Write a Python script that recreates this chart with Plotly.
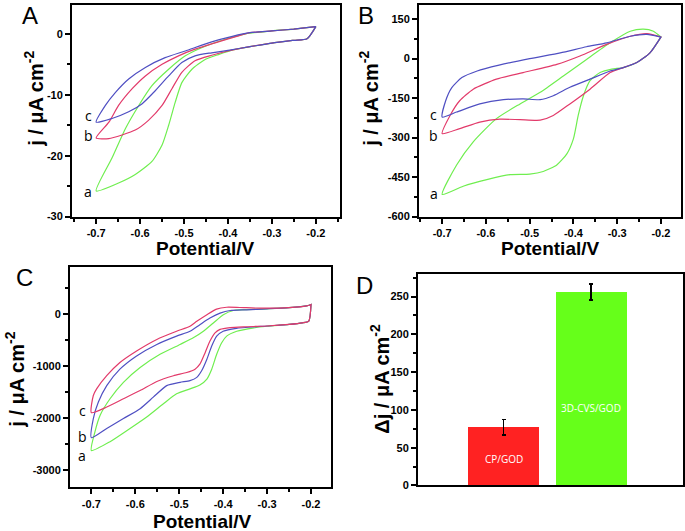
import plotly.graph_objects as go

# ---------------- Panel A data (Potential / V, j / uA cm-2) ----------------
A_a_up_V = [-0.7, -0.664, -0.633, -0.603, -0.573, -0.535, -0.497, -0.46, -0.42, -0.36, -0.3, -0.25, -0.2]
A_a_up_J = [-25.8, -20.4, -15.5, -11.75, -8.5, -5.8, -3.6, -2.27, -1.2, 0.0, 0.5, 0.8, 1.2]
A_a_lo_V = [-0.7, -0.649, -0.611, -0.573, -0.55, -0.535, -0.52, -0.505, -0.482, -0.452, -0.422, -0.384, -0.35, -0.3, -0.25, -0.22, -0.2]
A_a_lo_J = [-25.8, -24.5, -23.1, -20.95, -18.25, -15.0, -11.2, -8.0, -5.8, -4.2, -3.4, -2.55, -2.1, -1.5, -1.05, -0.8, 1.2]

A_b_up_V = [-0.7, -0.671, -0.649, -0.618, -0.588, -0.55, -0.5125, -0.475, -0.422, -0.38, -0.35, -0.3, -0.25, -0.2]
A_b_up_J = [-17.1, -14.5, -11.75, -9.0, -6.9, -5.0, -3.6, -2.5, -1.3, -0.4, 0.2, 0.5, 0.8, 1.2]
A_b_lo_V = [-0.7, -0.671, -0.641, -0.611, -0.581, -0.55, -0.5275, -0.505, -0.475, -0.437, -0.40, -0.35, -0.3, -0.25, -0.22, -0.2]
A_b_lo_J = [-17.1, -17.2, -16.6, -15.8, -14.2, -11.75, -9.0, -6.3, -4.4, -3.5, -2.8, -2.1, -1.5, -1.05, -0.8, 1.2]

A_c_up_V = [-0.7, -0.679, -0.656, -0.626, -0.588, -0.543, -0.497, -0.437, -0.39, -0.35, -0.3, -0.25, -0.2]
A_c_up_J = [-14.5, -11.75, -9.6, -7.4, -5.5, -3.9, -2.8, -1.3, -0.4, 0.2, 0.5, 0.8, 1.2]
A_c_lo_V = [-0.7, -0.664, -0.626, -0.596, -0.565, -0.535, -0.505, -0.475, -0.437, -0.40, -0.35, -0.3, -0.25, -0.22, -0.2]
A_c_lo_J = [-14.5, -13.9, -12.8, -11.5, -9.3, -6.9, -4.7, -3.6, -3.1, -2.7, -2.1, -1.5, -1.05, -0.8, 1.2]

# ---------------- Panel B data ----------------
B_a_up_V = [-0.7, -0.667, -0.629, -0.576, -0.522, -0.476, -0.423, -0.37, -0.316, -0.27, -0.24, -0.217, -0.2]
B_a_up_J = [-516, -404, -316, -228, -172, -128, -66, -3, 60, 104, 112, 104, 82]
B_a_lo_V = [-0.7, -0.652, -0.598, -0.545, -0.50, -0.469, -0.438, -0.415, -0.40, -0.389, -0.377, -0.362, -0.339, -0.3125, -0.286, -0.255, -0.225, -0.2]
B_a_lo_J = [-516, -485, -460, -441, -439, -429, -404, -362, -305, -216, -141, -84, -53, -40, -34, -15, 22, 82]

B_b_up_V = [-0.7, -0.682, -0.66, -0.629, -0.576, -0.515, -0.438, -0.385, -0.324, -0.27, -0.232, -0.2]
B_b_up_J = [-285, -216, -160, -116, -78, -53, -22, 10, 54, 85, 95, 82]
B_b_lo_V = [-0.7, -0.66, -0.614, -0.568, -0.522, -0.476, -0.446, -0.408, -0.362, -0.316, -0.286, -0.255, -0.225, -0.2]
B_b_lo_J = [-285, -266, -241, -230, -232, -234, -216, -172, -116, -53, -34, -15, 22, 82]

B_c_up_V = [-0.7, -0.692, -0.678, -0.655, -0.62, -0.57, -0.5, -0.43, -0.37, -0.324, -0.27, -0.232, -0.2]
B_c_up_J = [-222, -160, -110, -72, -47, -25, 0, 22, 45, 60, 85, 92, 82]
B_c_lo_V = [-0.7, -0.667, -0.614, -0.56, -0.515, -0.476, -0.446, -0.408, -0.362, -0.316, -0.286, -0.255, -0.225, -0.2]
B_c_lo_J = [-222, -203, -172, -156, -153, -156, -141, -109, -78, -47, -34, -15, 22, 82]

# ---------------- Panel C data ----------------
C_a_up_V = [-0.7, -0.6917, -0.68, -0.6575, -0.627, -0.589, -0.5437, -0.498, -0.468, -0.445, -0.4223, -0.3996, -0.3768, -0.316, -0.25, -0.21, -0.2]
C_a_up_J = [-2627, -2266, -1950, -1633, -1317, -1032, -779, -589, -462, -336, -177, -19, 63, 89, 118, 150, 178]
C_a_lo_V = [-0.7, -0.6575, -0.612, -0.574, -0.536, -0.506, -0.4755, -0.453, -0.437, -0.426, -0.4147, -0.4033, -0.392, -0.369, -0.33, -0.3, -0.25, -0.22, -0.205, -0.2]
C_a_lo_J = [-2627, -2457, -2203, -1982, -1728, -1538, -1443, -1368, -1254, -1064, -779, -557, -430, -336, -270, -240, -205, -175, -140, 178]

C_b_up_V = [-0.7, -0.6955, -0.684, -0.665, -0.635, -0.597, -0.551, -0.506, -0.4755, -0.453, -0.43, -0.407, -0.384, -0.3465, -0.3, -0.25, -0.21, -0.2]
C_b_up_J = [-2380, -2013, -1697, -1380, -1064, -810, -589, -430, -336, -209, -82, 13, 63, 76, 95, 118, 150, 178]
C_b_lo_V = [-0.7, -0.665, -0.627, -0.589, -0.559, -0.5285, -0.498, -0.4755, -0.46, -0.449, -0.437, -0.426, -0.4147, -0.40, -0.37, -0.3, -0.25, -0.22, -0.205, -0.2]
C_b_lo_J = [-2380, -2203, -2013, -1823, -1602, -1380, -1317, -1285, -1222, -1095, -873, -620, -430, -336, -280, -235, -205, -175, -140, 178]

C_c_up_V = [-0.7, -0.6955, -0.688, -0.665, -0.635, -0.597, -0.551, -0.506, -0.4755, -0.46, -0.437, -0.415, -0.392, -0.362, -0.316, -0.25, -0.21, -0.2]
C_c_up_J = [-1900, -1570, -1443, -1190, -937, -715, -493, -336, -241, -146, -19, 89, 125, 120, 108, 118, 150, 178]
C_c_lo_V = [-0.7, -0.665, -0.627, -0.589, -0.551, -0.513, -0.483, -0.464, -0.453, -0.441, -0.43, -0.4185, -0.407, -0.384, -0.35, -0.3, -0.25, -0.22, -0.205, -0.2]
C_c_lo_J = [-1900, -1792, -1633, -1475, -1300, -1190, -1128, -1064, -969, -747, -525, -367, -300, -265, -250, -235, -205, -175, -140, 178]

# ---------------- Panel D data ----------------
D_categories = ["CP/GOD", "3D-CVS/GOD"]
D_positions = [1, 2]
D_values = [77, 256]
D_errors = [10, 10.5]
D_label_y = [35, 103]

# ---------------- tick labels ----------------
X_ticks = [-0.7, -0.6, -0.5, -0.4, -0.3, -0.2]
X_ticktext = ["-0.7", "-0.6", "-0.5", "-0.4", "-0.3", "-0.2"]
X_minor = [-0.75, -0.65, -0.55, -0.45, -0.35, -0.25, -0.15]
A_yticks = [0, -10, -20, -30]
A_yticktext = ["0", "-10", "-20", "-30"]
A_yminor = [5, -5, -15, -25]
B_yticks = [150, 0, -150, -300, -450, -600]
B_yticktext = ["150", "0", "-150", "-300", "-450", "-600"]
B_yminor = [75, -75, -225, -375, -525]
C_yticks = [0, -1000, -2000, -3000]
C_yticktext = ["0", "-1000", "-2000", "-3000"]
C_yminor = [500, -500, -1500, -2500]
D_yticks = [0, 50, 100, 150, 200, 250]
D_yminor = [25, 75, 125, 175, 225, 275]

GREEN = "#6FEE4F"
RED = "#E23A6A"
BLUE = "#4F4FC2"

W, H = 685, 531
def px(X):
    return X / W
def py(Y):
    return 1 - Y / H

fig = go.Figure()

def loop(upV, upJ, loV, loJ, color, xa, ya):
    xs = list(upV) + list(loV)[::-1]
    ys = list(upJ) + list(loJ)[::-1]
    fig.add_trace(go.Scatter(x=xs, y=ys, mode="lines", xaxis=xa, yaxis=ya,
                             line=dict(color=color, width=1.2, shape="spline", smoothing=0.6),
                             showlegend=False, hoverinfo="skip"))

# Panel A
loop(A_a_up_V, A_a_up_J, A_a_lo_V, A_a_lo_J, GREEN, "x", "y")
loop(A_b_up_V, A_b_up_J, A_b_lo_V, A_b_lo_J, RED, "x", "y")
loop(A_c_up_V, A_c_up_J, A_c_lo_V, A_c_lo_J, BLUE, "x", "y")
# Panel B
loop(B_a_up_V, B_a_up_J, B_a_lo_V, B_a_lo_J, GREEN, "x2", "y2")
loop(B_b_up_V, B_b_up_J, B_b_lo_V, B_b_lo_J, RED, "x2", "y2")
loop(B_c_up_V, B_c_up_J, B_c_lo_V, B_c_lo_J, BLUE, "x2", "y2")
# Panel C
loop(C_a_up_V, C_a_up_J, C_a_lo_V, C_a_lo_J, GREEN, "x3", "y3")
loop(C_b_up_V, C_b_up_J, C_b_lo_V, C_b_lo_J, BLUE, "x3", "y3")
loop(C_c_up_V, C_c_up_J, C_c_lo_V, C_c_lo_J, RED, "x3", "y3")
# Panel D
fig.add_trace(go.Bar(x=D_positions, y=D_values, xaxis="x4", yaxis="y4", width=0.81,
                     marker=dict(color=["#FF2222", "#66FF1A"], line=dict(width=0)),
                     error_y=dict(type="data", array=D_errors, color="black", thickness=1.5, width=2),
                     showlegend=False, hoverinfo="skip"))

tickfont = dict(family="Arial", size=11, color="black", weight="bold")
common = dict(showline=True, linewidth=2, linecolor="black", mirror=True, ticks="outside",
              ticklen=5, tickwidth=2, tickcolor="black", showgrid=False, zeroline=False,
              tickfont=tickfont, fixedrange=True)

def xax(domain, anchor, rng):
    return dict(domain=domain, anchor=anchor, range=rng, tickmode="array", tickvals=X_ticks,
                ticktext=X_ticktext,
                minor=dict(tickmode="array", tickvals=X_minor, ticks="outside", ticklen=3,
                           tickwidth=1.5, tickcolor="black", showgrid=False), **common)

def yax(domain, anchor, rng, tv, tt, mv):
    return dict(domain=domain, anchor=anchor, range=rng, tickmode="array", tickvals=tv, ticktext=tt,
                minor=dict(tickmode="array", tickvals=mv, ticks="outside", ticklen=3,
                           tickwidth=1.5, tickcolor="black", showgrid=False), **common)

fig.update_layout(
    width=W, height=H, margin=dict(l=0, r=0, t=0, b=0),
    paper_bgcolor="white", plot_bgcolor="white",
    xaxis=xax([px(72), px(340)], "y", [-0.755, -0.145]),
    yaxis=yax([py(219), py(5)], "x", [-30, 4.76], A_yticks, A_yticktext, A_yminor),
    xaxis2=xax([px(419), px(681)], "y2", [-0.753, -0.154]),
    yaxis2=yax([py(219), py(5)], "x2", [-600, 204], B_yticks, B_yticktext, B_yminor),
    xaxis3=xax([px(70), px(331)], "y3", [-0.7486, -0.1545]),
    yaxis3=yax([py(493), py(270)], "x3", [-3336, 899], C_yticks, C_yticktext, C_yminor),
    xaxis4=dict(domain=[px(418), px(683)], anchor="y4", range=[0.02, 3.05], showline=True,
                linewidth=2, linecolor="black", mirror=True, ticks="", showticklabels=False,
                showgrid=False, zeroline=False, fixedrange=True),
    yaxis4=yax([py(491), py(277)], "x4", [0, 280], D_yticks, [str(v) for v in D_yticks], D_yminor),
    bargap=0,
)

ann = []
def text(X, Y, t, size, bold=False, angle=0, color="black", family="Arial", height=None):
    d = dict(x=px(X), y=py(Y), xref="paper", yref="paper", text=t, showarrow=False,
             xanchor="center", yanchor="middle", textangle=angle,
             font=dict(family=family, size=size, color=color,
                       weight="bold" if bold else "normal"))
    if height is not None:
        d["height"] = height
    ann.append(d)

# panel letters
text(30, 16, "A", 24)
text(366, 16, "B", 24)
text(24, 281, "C", 24)
text(364, 289, "D", 24)
# axis titles
ytitle = "j / μA cm<sup>-2</sup>"
text(34, 100, ytitle, 20, bold=True, angle=-90)
text(369, 100, ytitle, 20, bold=True, angle=-90)
text(15, 384, ytitle, 20, bold=True, angle=-90)
text(380, 383, "Δj / μA cm<sup>-2</sup>", 20, bold=True, angle=-90)
text(205, 251, "Potential/V", 19, bold=True)
text(550, 251, "Potential/V", 19, bold=True)
text(202, 527, "Potential/V", 19, bold=True)
# curve labels
for (X, Y, t) in [(88, 116.5, "c"), (88, 137, "b"), (88, 194, "a"),
                  (433, 116, "c"), (433, 137, "b"), (434, 196, "a"),
                  (82, 415, "c"), (82, 441, "b"), (82, 461, "a")]:
    text(X, Y, t, 14, family="Open Sans")

# bar labels (data coordinates)
for pos, lab, ly in zip(D_positions, D_categories, D_label_y):
    ann.append(dict(x=pos, y=ly, xref="x4", yref="y4", text=lab, showarrow=False,
                    font=dict(family="Open Sans", size=10, color="white")))

fig.update_layout(annotations=ann)
fig.write_html("out.html", config={"displayModeBar": False},
               post_script="document.body.style.margin='0';")
